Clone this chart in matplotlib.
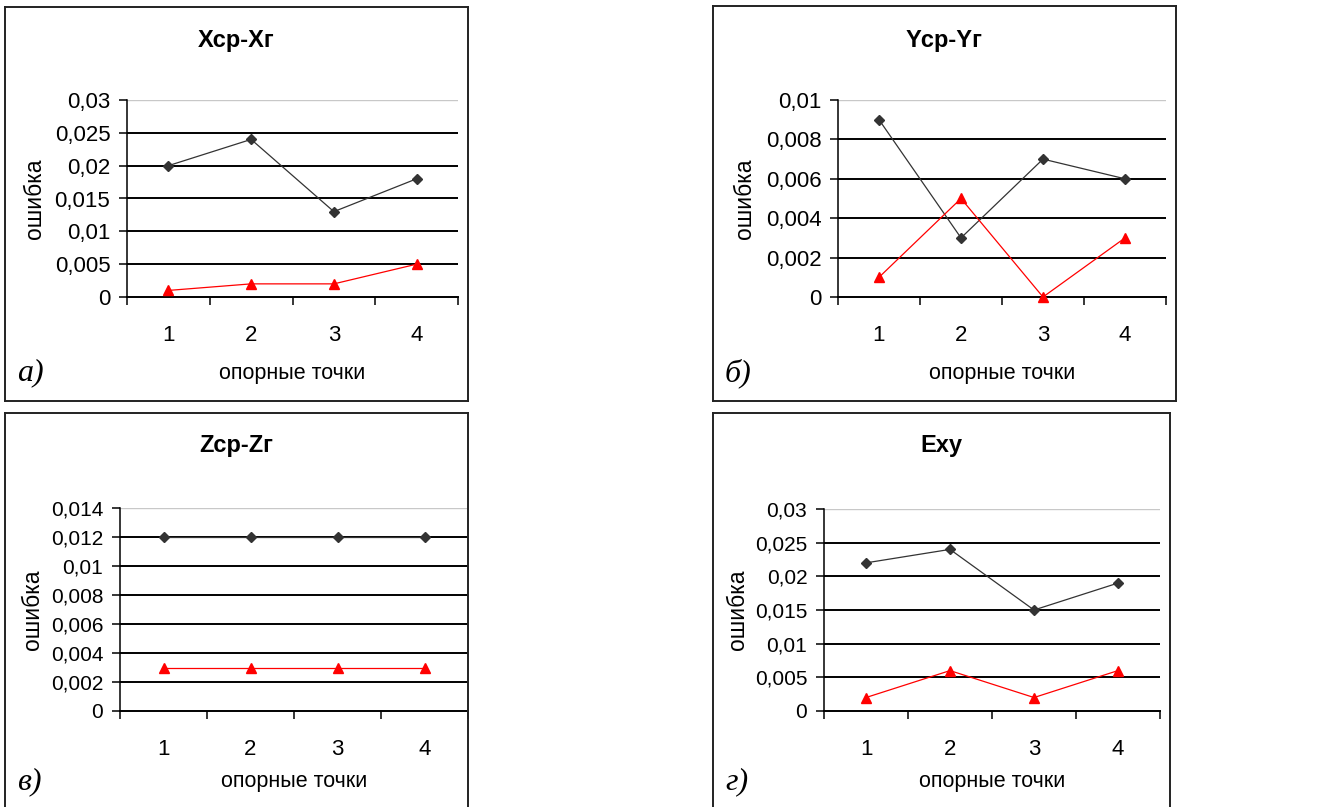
import matplotlib
matplotlib.use("Agg")
import matplotlib.pyplot as plt
from matplotlib.lines import Line2D
from matplotlib.ticker import FixedLocator, FuncFormatter

plt.rcParams['font.family'] = ['Liberation Sans', 'DejaVu Sans']

# data
points = [1, 2, 3, 4]
titles = ['Xср-Xг', 'Yср-Yг', 'Zср-Zг', 'Exy']
letters = ['а)', 'б)', 'в)', 'г)']
black_a = [0.020, 0.024, 0.013, 0.018]
red_a = [0.001, 0.002, 0.002, 0.005]
black_b = [0.009, 0.003, 0.007, 0.006]
red_b = [0.001, 0.005, 0.0, 0.003]
black_c = [0.012, 0.012, 0.012, 0.012]
red_c = [0.003, 0.003, 0.003, 0.003]
black_d = [0.022, 0.024, 0.015, 0.019]
red_d = [0.002, 0.006, 0.002, 0.006]
yticks_a = [0, 0.005, 0.01, 0.015, 0.02, 0.025, 0.03]
yticks_b = [0, 0.002, 0.004, 0.006, 0.008, 0.01]
yticks_c = [0, 0.002, 0.004, 0.006, 0.008, 0.01, 0.012, 0.014]
yticks_d = [0, 0.005, 0.01, 0.015, 0.02, 0.025, 0.03]

W, H = 1319, 807
fig = plt.figure(figsize=(W / 100, H / 100), dpi=100)


def fx(x):
    return x / W


def fy(y):
    return 1 - y / H


def box(x0, y0, x1, y1):
    # panel frame (bottom edge may fall off the image)
    for xs, ys in [((x0, x1), (y0, y0)), ((x0, x0), (y0, y1)), ((x1, x1), (y0, y1)), ((x0, x1), (y1, y1))]:
        fig.add_artist(Line2D([fx(v) for v in xs], [fy(v) for v in ys], color='#222222', lw=1.4))


def comma(v, pos):
    return f"{v:g}".replace('.', ',')


def panel(frame, area, title, letter, black, red, yticks, title_y, lab_y, ylab_x, tfs):
    x0, y0, x1, y1 = frame
    ax0, ay0, ax1, ay1 = area
    box(*frame)
    ax = fig.add_axes([fx(ax0), fy(ay1), (ax1 - ax0) / W, (ay1 - ay0) / H])
    ax.set_xlim(0.5, 4.5)
    ax.set_ylim(yticks[0], yticks[-1])
    for t in yticks[1:-1]:
        ax.axhline(t, color='black', lw=1.4, zorder=1)
    ax.axhline(yticks[-1], color='#c8c8c8', lw=1.0, zorder=1)
    ax.plot(points, black, color='#333333', lw=0.9, marker='D', markersize=5,
            markerfacecolor='#333333', markeredgecolor='#333333', zorder=3, clip_on=False)
    ax.plot(points, red, color='red', lw=0.9, marker='^', markersize=7,
            markerfacecolor='red', markeredgecolor='red', zorder=3, clip_on=False)
    for s in ['top', 'right']:
        ax.spines[s].set_visible(False)
    ax.spines['left'].set_linewidth(1.1)
    ax.spines['bottom'].set_linewidth(1.4)
    ax.set_yticks(yticks)
    ax.yaxis.set_major_formatter(FuncFormatter(comma))
    ax.xaxis.set_major_locator(FixedLocator(points))
    ax.xaxis.set_minor_locator(FixedLocator([0.5, 1.5, 2.5, 3.5, 4.5]))
    ax.set_xticklabels([str(p) for p in points])
    ax.tick_params(axis='x', which='major', length=0, pad=20, labelsize=16)
    ax.tick_params(axis='x', which='minor', length=6, width=1.1, direction='out')
    ax.tick_params(axis='y', length=6, width=1.1, pad=6, labelsize=tfs)
    ax.set_facecolor('none')
    fig.text(fx((x0 + x1) / 2), fy(title_y), title, ha='center', va='center',
             fontsize=17, fontweight='bold')
    fig.text(fx((ax0 + ax1) / 2), fy(lab_y), 'опорные точки', ha='center', va='center', fontsize=15.5)
    fig.text(fx(ylab_x), fy((ay0 + ay1) / 2), 'ошибка', ha='center', va='center',
             rotation=90, fontsize=16.5)
    fig.text(fx(x0 + 12), fy(lab_y), letter, ha='left', va='center', fontsize=23,
             family='Liberation Serif', style='italic')


panel((5, 7, 468, 401), (127, 100, 458, 297), titles[0], letters[0], black_a, red_a, yticks_a, 40, 373, 34, 16)
panel((713, 6, 1176, 401), (838, 100, 1166, 297), titles[1], letters[1], black_b, red_b, yticks_b, 40, 373, 745, 16)
panel((5, 413, 468, 830), (120, 508, 468, 711), titles[2], letters[2], black_c, red_c, yticks_c, 445, 782, 33, 15)
panel((713, 413, 1170, 830), (824, 509, 1160, 711), titles[3], letters[3], black_d, red_d, yticks_d, 445, 782, 738, 15)

fig.savefig('out.png', dpi=100)
